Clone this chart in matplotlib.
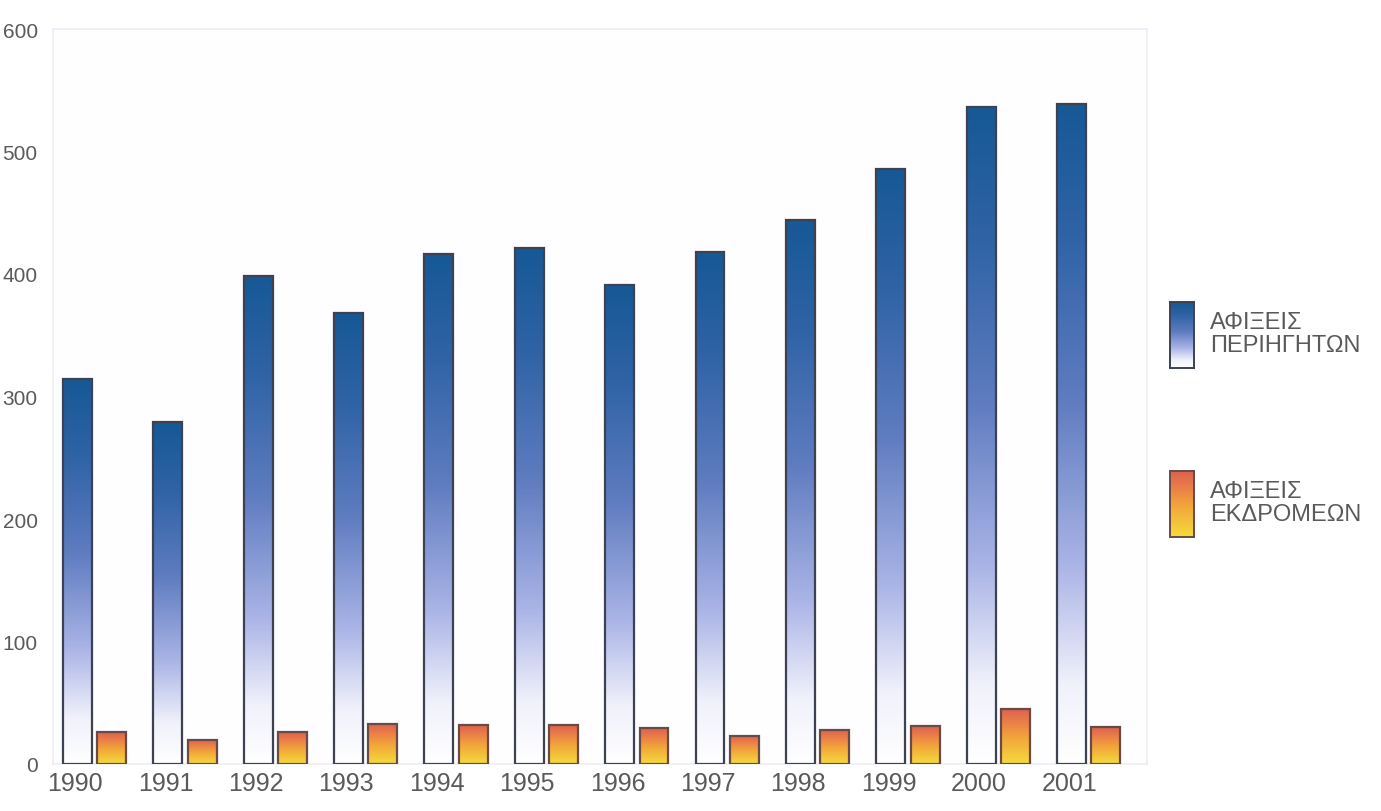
import numpy as np
import matplotlib.pyplot as plt
from matplotlib.colors import LinearSegmentedColormap

# data
years = ["1990", "1991", "1992", "1993", "1994", "1995",
         "1996", "1997", "1998", "1999", "2000", "2001"]
tourists = [314, 279, 398, 368, 416, 421, 391, 418, 444, 486, 536, 539]
excursionists = [26, 20, 26, 33, 32, 32, 29, 23, 28, 31, 45, 30]
yticks = [0, 100, 200, 300, 400, 500, 600]
legend_labels = ["ΑΦΙΞΕΙΣ\nΠΕΡΙΗΓΗΤΩΝ", "ΑΦΙΞΕΙΣ\nΕΚΔΡΟΜΕΩΝ"]

plt.rcParams["font.family"] = ["Liberation Sans", "DejaVu Sans"]

blue_cmap = LinearSegmentedColormap.from_list(
    "blue", [(0, "#ffffff"), (0.12, "#f0f1fb"), (0.3, "#aab4e6"),
             (0.55, "#5f7cc0"), (0.8, "#2f63a6"), (1, "#175896")])
orange_cmap = LinearSegmentedColormap.from_list(
    "orange", [(0, "#f4dc3c"), (0.45, "#f2a83a"), (0.8, "#e9784a"), (1, "#d9624e")])

fig = plt.figure(figsize=(13.81, 8.12), dpi=100)
ax = fig.add_axes([53 / 1381, 47 / 812, 1094 / 1381, 735 / 812])
ax.set_facecolor("#fefdff")

grad = np.linspace(0, 1, 256).reshape(-1, 1)
x = np.arange(len(years))
w = 0.32


def gradient_bars(xpos, heights, cmap, edge):
    bars = ax.bar(xpos, heights, width=w, facecolor="none", edgecolor=edge,
                  linewidth=1.6, zorder=3)
    for b in bars:
        x0, y0 = b.get_x(), b.get_y()
        im = ax.imshow(grad, cmap=cmap, origin="lower", aspect="auto",
                       extent=[x0, x0 + b.get_width(), y0, y0 + b.get_height()],
                       zorder=2)
        im.set_clip_path(b)
    return bars


gradient_bars(x - 0.195, tourists, blue_cmap, "#3c4252")
gradient_bars(x + 0.185, excursionists, orange_cmap, "#6a4a44")

ax.set_xlim(-0.465, 11.64)
ax.set_ylim(0, 600)
ax.set_xticks(x - 0.22)
ax.set_xticklabels(years, fontsize=18, color="#5a5a5a")
ax.set_yticks(yticks)
ax.set_yticklabels([str(v) for v in yticks], fontsize=15, color="#5a5a5a")
ax.tick_params(axis="both", length=0)
ax.tick_params(axis="y", pad=11)
ax.tick_params(axis="x", pad=5)
for s in ax.spines.values():
    s.set_color("#eeedf5")
    s.set_linewidth(1.2)

# legend swatches with gradients
cmaps = [blue_cmap, orange_cmap]
edges = ["#3c4252", "#6a4a44"]
tops = [303, 472]
for i in range(2):
    lax = fig.add_axes([1170 / 1381, 1 - (tops[i] + 66) / 812, 24 / 1381, 66 / 812])
    lax.imshow(grad, cmap=cmaps[i], origin="lower", aspect="auto")
    lax.set_xticks([])
    lax.set_yticks([])
    for s in lax.spines.values():
        s.set_color(edges[i])
        s.set_linewidth(1.4)
    fig.text(1210 / 1381, 1 - (tops[i] + 9) / 812, legend_labels[i],
             fontsize=17, color="#5a5a5a", va="top", ha="left", linespacing=1.05)

plt.savefig("out.png", dpi=100)
